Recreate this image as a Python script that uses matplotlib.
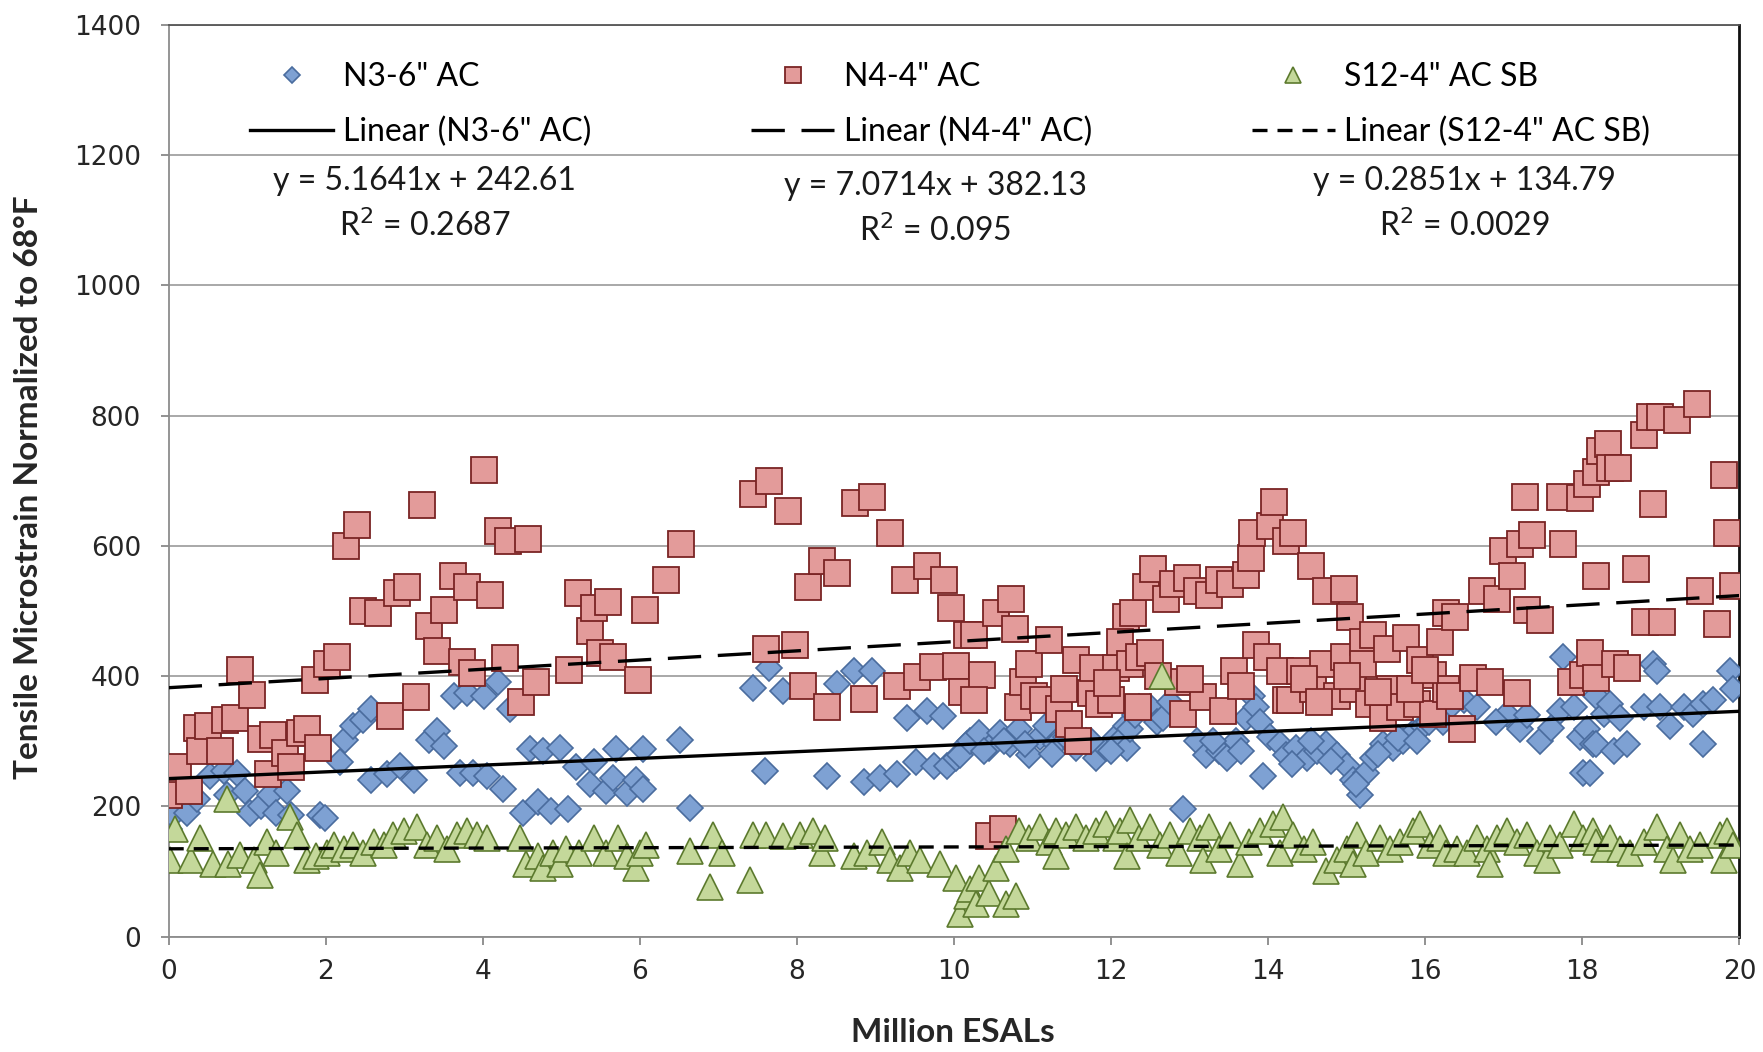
import numpy as np
import matplotlib
matplotlib.use("Agg")
import matplotlib.pyplot as plt

# N3-6" AC  (blue diamonds)
n3_x = [0.0, 0.06, 0.23, 0.36, 0.53, 0.7, 0.74, 0.87, 0.97, 1.04, 1.18, 1.29, 1.37, 1.5, 1.56, 1.92,
        1.99, 2.18, 2.25, 2.35, 2.48, 2.57, 2.57, 2.78, 2.95, 3.12, 3.31, 3.41, 3.5, 3.63, 3.71, 3.8, 3.88, 4.01, 4.05,
        4.19, 4.26, 4.34, 4.51, 4.6, 4.7, 4.77, 4.87, 4.98, 5.08, 5.19, 5.36, 5.42, 5.57, 5.66, 5.7, 5.83, 5.95,
        6.04, 6.04, 6.51, 6.64, 7.44, 7.59, 7.65, 7.82,
        8.38, 8.51, 8.72, 8.85, 8.95, 9.06, 9.27, 9.4, 9.52, 9.65, 9.74, 9.86, 9.91, 10.03, 10.16,
        10.07, 10.2, 10.32, 10.45, 10.58, 10.71, 10.83, 10.96, 11.09, 11.17, 11.3, 11.43, 11.55, 11.68, 11.81, 11.94,
        12.06, 12.19, 12.11, 12.2, 12.24, 12.36, 12.49, 12.58, 12.66, 12.92, 13.09, 13.21, 13.38, 13.47, 13.59, 13.72,
        13.8, 13.85, 13.89, 13.93, 14.02, 14.15, 14.23,
        14.36, 14.49, 14.62, 14.74, 14.87, 15.0, 15.08, 15.17, 15.25, 15.34, 15.46, 15.59, 15.72, 15.85, 15.97,
        16.14, 16.27, 16.32, 16.49, 16.66, 16.23, 17.04, 17.21, 17.46, 17.72, 17.76, 17.89, 17.97, 18.06, 18.14,
        18.01, 18.27, 18.18, 18.35, 18.48, 18.18, 18.4, 18.57, 18.1, 18.78, 18.9, 18.95, 18.99, 19.12, 19.29,
        19.41, 19.54, 19.67, 19.54, 19.88, 19.92,
        10.38, 10.64, 10.9, 11.25, 11.5, 11.75, 12.0, 12.3, 12.75, 13.3, 13.65, 14.3, 14.55, 14.8, 15.12, 15.4,
        15.65, 15.9, 16.05, 16.9, 17.3, 17.6]
n3_y = [165, 187, 190, 212, 246, 254, 218, 251, 223, 190, 201, 218, 190, 223, 187, 187,
        182, 268, 302, 324, 332, 349, 240, 249, 262, 240, 302, 315, 293, 369, 251, 374, 251, 369, 246,
        391, 226, 349, 190, 288, 207, 285, 193, 290, 196, 260, 235, 268, 223, 243, 288, 221, 240,
        288, 226, 302, 198, 382, 254, 413, 377,
        246, 388, 408, 237, 408, 243, 249, 335, 268, 346, 262, 338, 262, 274, 296,
        279, 301, 313, 290, 313, 296, 318, 279, 307, 324, 296, 307, 290, 301, 274, 290,
        307, 324, 301, 290, 318, 352, 352, 329, 335, 196, 301, 279, 285, 274, 301, 335,
        369, 352, 329, 246, 307, 296, 279,
        290, 274, 285, 296, 279, 262, 240, 218, 251, 274, 296, 290, 301, 313, 324,
        341, 352, 352, 363, 352, 329, 341, 318, 301, 346, 430, 352, 307, 318, 296,
        251, 341, 369, 357, 335, 296, 285, 296, 251, 352, 419, 408, 352, 324, 352,
        341, 357, 363, 296, 408, 380,
        285, 300, 295, 280, 315, 300, 285, 340, 360, 300, 285, 265, 300, 270, 235, 280,
        305, 300, 330, 330, 340, 320]

# N4-4" AC  (red squares)
n4_x = [0.0, 0.12, 0.26, 0.36, 0.4, 0.5, 0.65, 0.72, 0.84, 0.91, 1.06, 1.18, 1.27, 1.33, 1.48, 1.56, 1.67, 1.76,
        1.86, 1.9, 2.01,
        2.14, 2.26, 2.4, 2.48, 2.67, 2.82, 2.91, 3.04, 3.15, 3.23, 3.31, 3.41, 3.5, 3.62, 3.73, 3.8, 3.86, 4.01,
        4.09, 4.19, 4.28, 4.32, 4.49, 4.57, 4.68, 5.1, 5.21, 5.36, 5.42, 5.49, 5.59, 5.66, 5.97, 6.06,
        6.33, 6.52, 7.44, 7.61, 7.65, 7.88, 7.98, 8.08, 8.14,
        8.32, 8.38, 8.51, 8.74, 8.85, 8.95, 9.18, 9.27, 9.38, 9.53, 9.65, 9.73, 9.87, 9.96, 10.03, 10.1, 10.16,
        10.26, 10.35, 10.26, 10.45, 10.54, 10.62, 10.73, 10.78, 10.81, 10.88, 10.96, 11.02, 11.13, 11.21, 11.34,
        11.47, 11.55, 11.58, 11.74, 11.77, 11.85, 12.0, 12.06, 12.19,
        12.11, 12.24, 12.28, 12.34, 12.36, 12.45, 12.49, 12.53, 12.7, 12.79, 12.85, 12.92, 12.96, 13.09, 13.17,
        13.25, 13.38, 13.42, 13.51, 13.57, 13.72, 13.78, 13.8, 13.85, 13.98, 14.02, 14.08, 14.15, 14.23, 14.23,
        14.28, 14.32, 14.4, 14.55, 14.57, 14.7, 14.74, 14.87, 14.96, 14.96, 15.04, 15.08, 15.21, 15.21, 15.29,
        15.34, 15.46, 15.51, 15.55, 15.68, 15.76, 15.89, 15.93, 16.1, 16.1,
        16.19, 16.27, 16.27, 16.32, 16.38, 16.47, 16.61, 16.72, 16.83, 16.91, 16.99, 17.1, 17.17, 17.21, 17.27,
        17.29, 17.36, 17.46, 17.72, 17.76, 17.86, 17.97, 18.01, 18.06,
        18.1, 18.18, 18.18, 18.18, 18.22, 18.33, 18.35, 18.42, 18.46, 18.57, 18.69, 18.78, 18.8, 18.86, 18.9,
        18.99, 19.01, 19.2, 19.46, 19.5, 19.71, 19.8, 19.84, 19.92,
        11.4, 11.95, 12.6, 13.0, 13.65, 14.45, 14.65, 15.0, 15.4, 15.8, 16.0]
n4_y = [218, 260, 223, 321, 285, 324, 285, 332, 335, 410, 371, 304, 249, 310, 282, 260, 313, 318,
        394, 290, 419,
        430, 599, 632, 500, 497, 338, 528, 536, 368, 663, 477, 438, 502, 553, 421, 536, 405, 717,
        525, 622, 427, 608, 360, 611, 391, 410, 528, 469, 505, 435, 514, 430, 394, 502,
        548, 602, 679, 442, 699, 653, 448, 385, 536,
        576, 352, 558, 665, 365, 675, 620, 385, 548, 398, 569, 414, 548, 505, 416, 375, 463,
        463, 402, 363, 154, 497, 165, 519, 472, 352, 391, 419, 369, 363, 455, 349,
        327, 424, 301, 374, 413, 357, 363, 413, 491,
        452, 419, 497, 352, 430, 536, 435, 564, 519, 541, 391, 341, 550, 530, 368,
        525, 547, 346, 541, 408, 555, 581, 620, 447, 430, 631, 667, 408, 608, 363,
        363, 620, 408, 569, 380, 419, 530, 369, 533, 430, 491, 380, 452, 419, 357,
        463, 335, 441, 380, 352, 458, 357, 424, 341, 402,
        452, 497, 380, 369, 491, 318, 397, 530, 391, 519, 592, 553, 374, 603, 675,
        502, 617, 486, 675, 603, 391, 673, 402, 695,
        435, 714, 553, 397, 745, 756, 720, 419, 720, 413, 564, 770, 483, 798, 664,
        798, 483, 793, 818, 530, 480, 709, 620, 539,
        380, 390, 400, 395, 385, 395, 360, 400, 375, 380, 410]

# S12-4" AC SB  (green triangles)
s12_x = [0.02, 0.08, 0.29, 0.4, 0.57, 0.74, 0.76, 0.91, 1.08, 1.16, 1.25, 1.37, 1.54, 1.63, 1.76, 1.88, 2.01,
         2.1, 2.23, 2.35, 2.48, 2.61, 2.74, 2.86, 2.99, 3.16, 3.29, 3.41, 3.54, 3.67, 3.8, 3.92, 4.05,
         4.47, 4.55, 4.7, 4.77, 4.89, 4.98, 5.06, 5.23, 5.42, 5.57, 5.72, 5.83, 5.95, 6.0,
         6.08, 6.64, 6.89, 6.93, 7.04, 7.4, 7.44, 7.61, 7.82,
         8.04, 8.21, 8.32, 8.36, 8.72, 8.89, 9.08, 9.18, 9.31, 9.44, 9.57, 9.82, 10.03, 10.07,
         10.16, 10.2, 10.28, 10.32, 10.45, 10.54, 10.66, 10.66, 10.79, 10.83, 10.96, 11.09, 11.21, 11.3, 11.3,
         11.43, 11.55, 11.68, 11.81, 11.94, 12.06,
         12.11, 12.2, 12.24, 12.36, 12.49, 12.62, 12.65, 12.75, 12.87, 13.0, 13.13, 13.17, 13.25, 13.38, 13.51,
         13.64, 13.76, 13.89, 14.06, 14.15, 14.19,
         14.32, 14.45, 14.57, 14.74, 14.87, 15.0, 15.08, 15.13, 15.25, 15.42, 15.55, 15.68, 15.85, 15.93, 16.06,
         16.19, 16.27, 16.4, 16.53, 16.66, 16.78, 16.83, 16.91, 17.04, 17.17, 17.29, 17.42, 17.55, 17.59, 17.72,
         17.89, 18.01,
         18.14, 18.18, 18.27, 18.35, 18.48, 18.61, 18.78, 18.95, 19.08, 19.16, 19.25, 19.37, 19.5, 19.75, 19.8,
         19.84, 19.92]
s12_y = [117, 165, 117, 151, 112, 212, 112, 126, 117, 95, 145, 129, 184, 156, 117, 123, 129,
         140, 134, 140, 129, 145, 140, 156, 162, 168, 140, 151, 134, 156, 162, 156, 151,
         151, 112, 123, 106, 129, 112, 134, 129, 151, 129, 151, 123, 106, 129,
         140, 131, 76, 156, 129, 87, 156, 156, 154,
         156, 162, 129, 151, 123, 129, 145, 117, 106, 129, 117, 112, 90, 34,
         62, 73, 50, 90, 67, 106, 50, 134, 62, 162, 151, 168, 145, 162, 123,
         156, 168, 151, 162, 173, 151,
         162, 123, 179, 151, 168, 140, 400, 156, 129, 162, 151, 117, 168, 134, 156,
         112, 145, 162, 173, 129, 184,
         156, 134, 145, 101, 117, 134, 112, 156, 129, 151, 134, 145, 162, 173, 140,
         151, 129, 134, 129, 151, 134, 112, 151, 162, 145, 156, 129, 117, 151, 140,
         173, 151,
         162, 145, 134, 151, 134, 129, 145, 168, 134, 117, 156, 134, 140, 156, 117,
         162, 140]

# trendline coefficients as printed on the chart
fit_n3 = [5.1641, 242.61]
fit_n4 = [7.0714, 382.13]
fit_s12 = [0.2851, 134.79]

plt.rcParams['font.family'] = ['Lato', 'DejaVu Sans']

fig = plt.figure(figsize=(17.63, 10.52), dpi=100)
ax = fig.add_axes([0.0957, 0.1097, 0.8909, 0.8668])

ax.plot(n3_x, n3_y, 'D', ms=13.5, mfc='#7EA1D3', mec='#4A6C9E', mew=1.2, ls='none',
        label='N3-6" AC', zorder=3)
ax.plot(n4_x, n4_y, 's', ms=19, mfc='#E39B9A', mec='#7A2424', mew=1.3, ls='none',
        label='N4-4" AC', zorder=3)
ax.plot(s12_x, s12_y, '^', ms=19, mfc='#C4D89A', mec='#5C7A2E', mew=1.2, ls='none',
        label='S12-4" AC SB', zorder=3)

xs = np.array([0.0, 20.0])
ax.plot(xs, np.polyval(fit_n3, xs), color='black', lw=2.4, label='Linear (N3-6" AC)', zorder=4)
ax.plot(xs, np.polyval(fit_n4, xs), color='black', lw=2.4, ls=(0, (10, 5)),
        label='Linear (N4-4" AC)', zorder=4)
ax.plot(xs, np.polyval(fit_s12, xs), color='black', lw=2.4, ls=(0, (4.5, 3)),
        label='Linear (S12-4" AC SB)', zorder=4)

ax.set_xlim(0, 20)
ax.set_ylim(0, 1400)
ax.set_xticks(np.arange(0, 21, 2))
ax.set_yticks(np.arange(0, 1401, 200))
ax.grid(axis='y', color='#9A9A9A', lw=1.2, zorder=0)
ax.set_axisbelow(True)
for lab in ax.get_xticklabels() + ax.get_yticklabels():
    lab.set_fontfamily('DejaVu Sans')
ax.tick_params(labelsize=19, colors='#7F7F7F', labelcolor='#262626', length=6, width=1.2)
ax.tick_params(axis='y', pad=14)
ax.tick_params(axis='x', pad=10)
ax.spines['left'].set_color('#8C8C8C')
ax.spines['bottom'].set_color('#8C8C8C')
ax.spines['top'].set_color('#555555')
ax.spines['right'].set_color('#111111')
for s in ax.spines.values():
    s.set_linewidth(1.3)
ax.spines['right'].set_linewidth(2)

h, l = ax.get_legend_handles_labels()
order = [0, 3, 1, 4, 2, 5]
leg = ax.legend([h[i] for i in order], [l[i] for i in order], ncol=3, loc='upper left',
                bbox_to_anchor=(0.052, 0.959), frameon=False, fontsize=23, markerscale=0.62,
                handlelength=2.6, handletextpad=0.3, columnspacing=5.0, labelspacing=0.76,
                borderpad=0, borderaxespad=0)
leg.set_zorder(6)

eq_x = [3.26, 9.76, 16.5]
eq_txt = ['y = 5.1641x + 242.61\nR$^2$ = 0.2687',
          'y = 7.0714x + 382.13\nR$^2$ = 0.095',
          'y = 0.2851x + 134.79\nR$^2$ = 0.0029']
eq_y = [1125, 1117, 1125]
for x, y, t in zip(eq_x, eq_y, eq_txt):
    ax.text(x, y, t, ha='center', va='center', fontsize=23, linespacing=1.5, color='#1A1A1A',
            bbox=dict(facecolor='white', edgecolor='none', pad=6), zorder=5)

fig.text(0.016, 0.537, 'Tensile Microstrain Normalized to 68\u00b0F', rotation=90, ha='center',
         va='center', fontsize=24, fontweight='bold', color='#262626')
fig.text(0.5406, 0.019, 'Million ESALs', ha='center', va='center', fontsize=24,
         fontweight='bold', color='#262626')

fig.savefig('out.png', dpi=100, facecolor='white')
